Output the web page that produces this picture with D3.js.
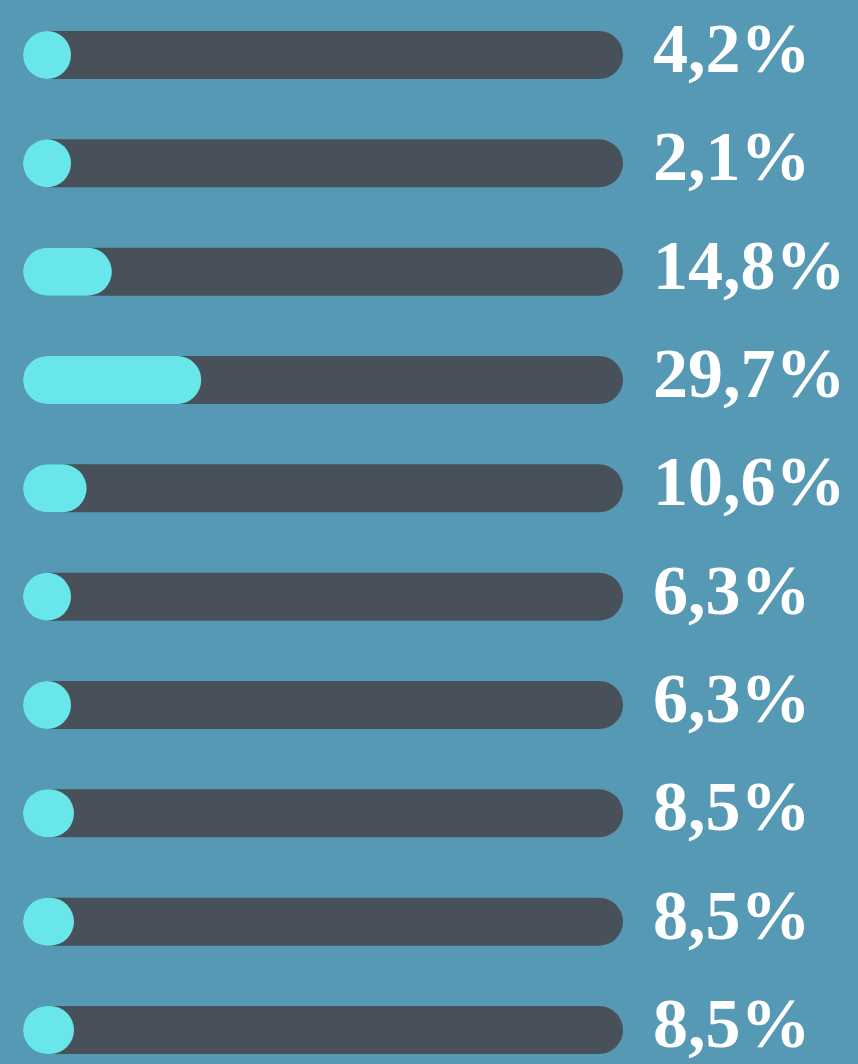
<!DOCTYPE html>
<html>
<head>
<meta charset="utf-8">
<script src="https://cdn.jsdelivr.net/npm/d3@7"></script>
<style>
  html, body { margin: 0; padding: 0; background: #5699b5; }
  svg { display: block; }
</style>
</head>
<body>
<div id="chart"></div>
<script>
// values, one per row (percent)
const rows = ["r1", "r2", "r3", "r4", "r5", "r6", "r7", "r8", "r9", "r10"];
const values = [4.2, 2.1, 14.8, 29.7, 10.6, 6.3, 6.3, 8.5, 8.5, 8.5];
const labels = ["4,2%", "2,1%", "14,8%", "29,7%", "10,6%", "6,3%", "6,3%", "8,5%", "8,5%", "8,5%"];

const width = 858;
const height = 1064;
const marginLeft = 23;
const trackWidth = 600;
const barHeight = 48;

const svg = d3.select("#chart").append("svg")
    .attr("width", width)
    .attr("height", height)
    .attr("viewBox", [0, 0, width, height]);

svg.append("rect")
    .attr("width", width)
    .attr("height", height)
    .attr("fill", "#5699b5");

// Scales: percent -> pixel length of the track, row -> vertical center
const xScale = d3.scaleLinear([0, 100], [0, trackWidth]);
const yScale = d3.scalePoint(rows, [55, 1030]);

const I = d3.range(values.length);

// background track (full 100%)
svg.append("g")
    .selectAll("rect")
    .data(I)
    .join("rect")
    .attr("x", marginLeft)
    .attr("y", i => yScale(rows[i]) - barHeight / 2)
    .attr("width", xScale(100))
    .attr("height", barHeight)
    .attr("rx", barHeight / 2)
    .attr("fill", "#48505a");

// filled part, never narrower than a circle
svg.append("g")
    .selectAll("rect")
    .data(I)
    .join("rect")
    .attr("x", marginLeft)
    .attr("y", i => yScale(rows[i]) - barHeight / 2)
    .attr("width", i => Math.max(barHeight, xScale(values[i])))
    .attr("height", barHeight)
    .attr("rx", barHeight / 2)
    .attr("fill", "#68e6e9");

svg.append("g")
    .selectAll("text")
    .data(I)
    .join("text")
    .attr("x", marginLeft + xScale(100) + 30)
    .attr("y", i => yScale(rows[i]) + 17)
    .attr("fill", "#ffffff")
    .attr("font-family", "'Liberation Serif', 'Times New Roman', serif")
    .attr("font-weight", "bold")
    .attr("font-size", 70)
    .text(i => labels[i]);
</script>
</body>
</html>
